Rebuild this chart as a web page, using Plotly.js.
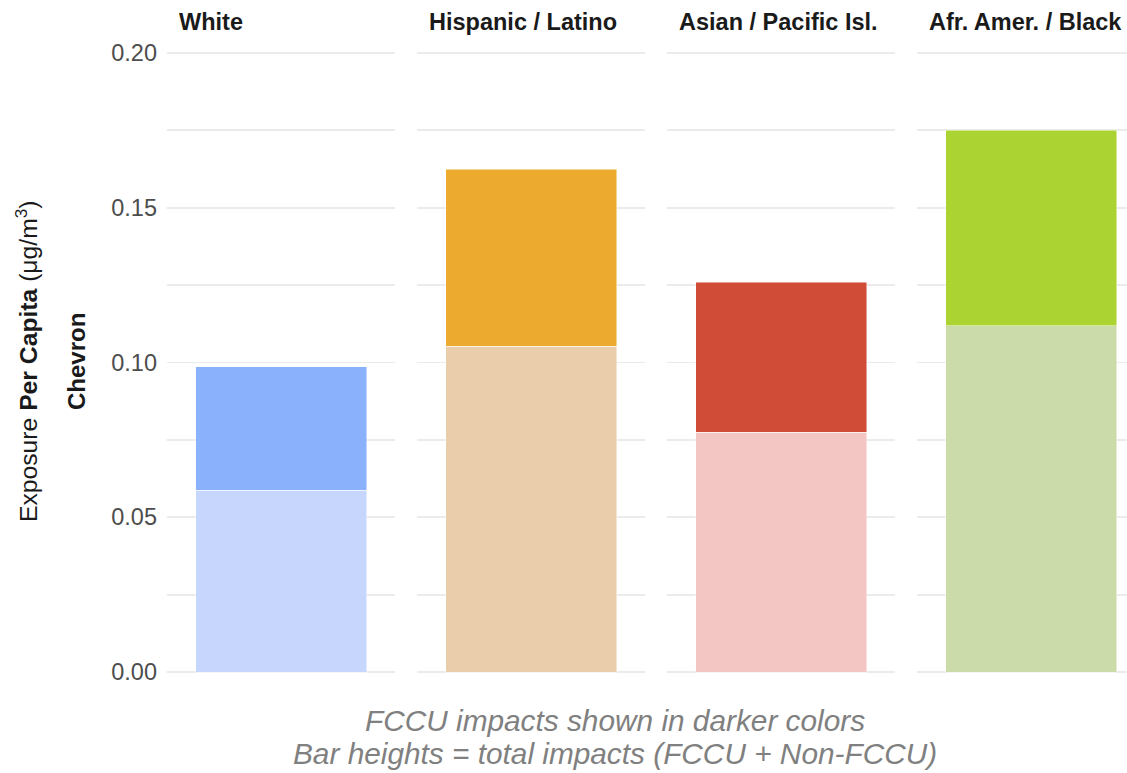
<!DOCTYPE html>
<html>
<head>
<meta charset="utf-8">
<script src="https://cdn.plot.ly/plotly-3.0.1.min.js"></script>
<style>html,body{margin:0;padding:0;background:#fff;}#chart{width:1127px;height:773px;}</style>
</head>
<body>
<div id="chart"></div>
<script>
// ---- data ----
const groups = ['White', 'Hispanic / Latino', 'Asian / Pacific Isl.', 'Afr. Amer. / Black'];
const nonFccu = [0.0588, 0.1053, 0.0775, 0.1118];   // lighter, lower segment
const fccu    = [0.0398, 0.0572, 0.0485, 0.0633];   // darker, upper segment
const lightColors = ['#c6d6fd', '#eaceab', '#f3c6c3', '#cbdcaa'];
const darkColors  = ['#8ab1fb', '#ecab2f', '#d04c37', '#abd332'];
const yTickVals = [0, 0.05, 0.10, 0.15, 0.20];

// ---- layout geometry (pixels) ----
const W = 1127, H = 773;
const mT = 40, mB = 88;
const plotH = H - mT - mB;
const panelLefts = [167, 417, 667, 917];
const panelW = 228;
const font = 'Liberation Sans, Arial, sans-serif';

const px2x = p => p / W;
const px2y = p => (H - mB - p) / plotH;

const traces = [];
const layout = {
  width: W, height: H,
  margin: {l: 0, r: 0, t: mT, b: mB, pad: 0},
  paper_bgcolor: '#fff', plot_bgcolor: '#fff',
  barmode: 'stack',
  showlegend: false,
  font: {family: font, color: '#4d4d4d'},
  annotations: [],
  bargap: 0.25
};

groups.forEach((g, i) => {
  const xa = i === 0 ? 'x' : 'x' + (i + 1);
  const ya = i === 0 ? 'y' : 'y' + (i + 1);
  traces.push({
    type: 'bar', x: [g], y: [nonFccu[i]], xaxis: xa, yaxis: ya,
    width: 0.75,
    marker: {color: lightColors[i], line: {width: 0.8, color: 'rgba(255,255,255,0.6)'}},
    hoverinfo: 'y'
  });
  traces.push({
    type: 'bar', x: [g], y: [fccu[i]], xaxis: xa, yaxis: ya,
    width: 0.75,
    marker: {color: darkColors[i], line: {width: 0.8, color: 'rgba(255,255,255,0.6)'}},
    hoverinfo: 'y'
  });

  const left = panelLefts[i];
  const right = Math.min(left + panelW, W);
  const frac = (right - left) / panelW;
  const xKey = i === 0 ? 'xaxis' : 'xaxis' + (i + 1);
  const yKey = i === 0 ? 'yaxis' : 'yaxis' + (i + 1);
  layout[xKey] = {
    domain: [px2x(left), px2x(right)],
    anchor: ya,
    type: 'category',
    range: [-0.5, -0.5 + frac],
    showticklabels: false, showgrid: false, zeroline: false, showline: false, ticks: '',
    fixedrange: true
  };
  layout[yKey] = {
    domain: [0, 1],
    anchor: xa,
    range: [-0.0042, 0.2042],
    tickvals: yTickVals,
    tickformat: '.2f',
    showticklabels: i === 0,
    ticks: '',
    ticklabelstandoff: 9,
    tickfont: {family: font, size: 23.5, color: '#4d4d4d'},
    showgrid: true, gridcolor: '#ebebeb', gridwidth: 1.8,
    minor: {dtick: 0.025, tick0: 0, showgrid: true, gridcolor: '#ebebeb', gridwidth: 1.8},
    zeroline: false, showline: false,
    fixedrange: true
  };
  if (i > 0) layout[yKey].matches = 'y';

  layout.annotations.push({
    text: '<b>' + g + '</b>',
    xref: 'paper', yref: 'paper',
    x: px2x(left + 10), y: px2y(22),
    xanchor: 'left', yanchor: 'middle',
    showarrow: false,
    font: {family: font, size: 23.5, color: '#1a1a1a'}
  });
});

// axis titles as annotations
layout.annotations.push({
  text: 'Exposure <b>Per Capita</b> (μg/m<sup>3</sup>)',
  xref: 'paper', yref: 'paper',
  x: px2x(27), y: px2y(361),
  xanchor: 'center', yanchor: 'middle',
  textangle: -90, showarrow: false,
  font: {family: font, size: 24.7, color: '#1a1a1a'}
});
layout.annotations.push({
  text: '<b>Chevron</b>',
  xref: 'paper', yref: 'paper',
  x: px2x(76), y: px2y(362),
  xanchor: 'center', yanchor: 'middle',
  textangle: -90, showarrow: false,
  font: {family: font, size: 24, color: '#1a1a1a'}
});
// caption
layout.annotations.push({
  text: '<i>FCCU impacts shown in darker colors</i>',
  xref: 'paper', yref: 'paper',
  x: px2x(615), y: px2y(720),
  xanchor: 'center', yanchor: 'middle', showarrow: false,
  font: {family: font, size: 29.8, color: '#808080'}
});
layout.annotations.push({
  text: '<i>Bar heights = total impacts (FCCU + Non-FCCU)</i>',
  xref: 'paper', yref: 'paper',
  x: px2x(615), y: px2y(753),
  xanchor: 'center', yanchor: 'middle', showarrow: false,
  font: {family: font, size: 29.8, color: '#808080'}
});

Plotly.newPlot('chart', traces, layout, {displayModeBar: false, staticPlot: true});
</script>
</body>
</html>
